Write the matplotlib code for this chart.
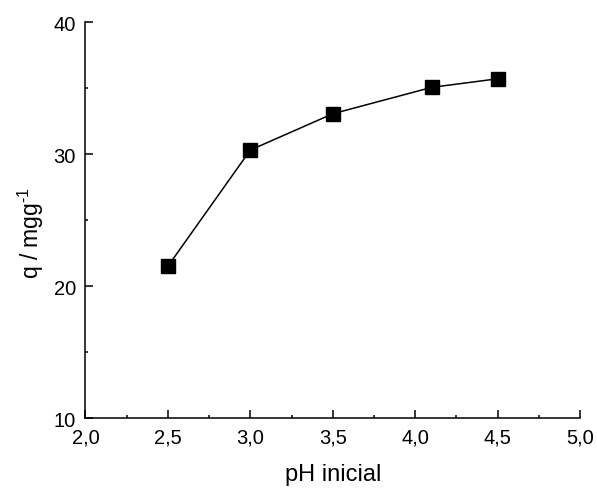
import matplotlib
matplotlib.use('Agg')
import matplotlib.pyplot as plt
from matplotlib.ticker import MultipleLocator, FuncFormatter

# dados
ph = [2.5, 3.0, 3.5, 4.1, 4.5]
q = [21.5, 30.3, 33.05, 35.05, 35.7]

plt.rcParams['font.family'] = ['Liberation Sans', 'DejaVu Sans']
plt.rcParams['mathtext.fontset'] = 'custom'
plt.rcParams['mathtext.rm'] = 'Liberation Sans'

fig = plt.figure(figsize=(5.97, 4.89), dpi=100)
ax = fig.add_axes([0.1432, 0.1431, 0.8283, 0.8098])

ax.plot(ph, q, color='black', lw=1.1, marker='s', ms=9.5,
        markerfacecolor='black', markeredgecolor='black')

ax.set_xlim(2.0, 5.0)
ax.set_ylim(10, 40)
ax.xaxis.set_major_locator(MultipleLocator(0.5))
ax.xaxis.set_minor_locator(MultipleLocator(0.25))
ax.yaxis.set_major_locator(MultipleLocator(10))
ax.yaxis.set_minor_locator(MultipleLocator(5))
ax.xaxis.set_major_formatter(FuncFormatter(lambda v, p: ('%.1f' % v).replace('.', ',')))
ax.yaxis.set_major_formatter(FuncFormatter(lambda v, p: '%d' % v))

for s in ['top', 'right']:
    ax.spines[s].set_visible(False)
for s in ['left', 'bottom']:
    ax.spines[s].set_linewidth(1.1)

ax.tick_params(which='major', direction='in', length=6, width=1.1, labelsize=14.5, pad=7)
ax.tick_params(which='minor', direction='in', length=2, width=1.1)

ax.set_xlabel('pH inicial', fontsize=17, labelpad=12)
ax.set_ylabel('q / mgg$^{\\text{-1}}$', fontsize=16.5, labelpad=5, y=0.47)

fig.savefig('out.png', dpi=100)
